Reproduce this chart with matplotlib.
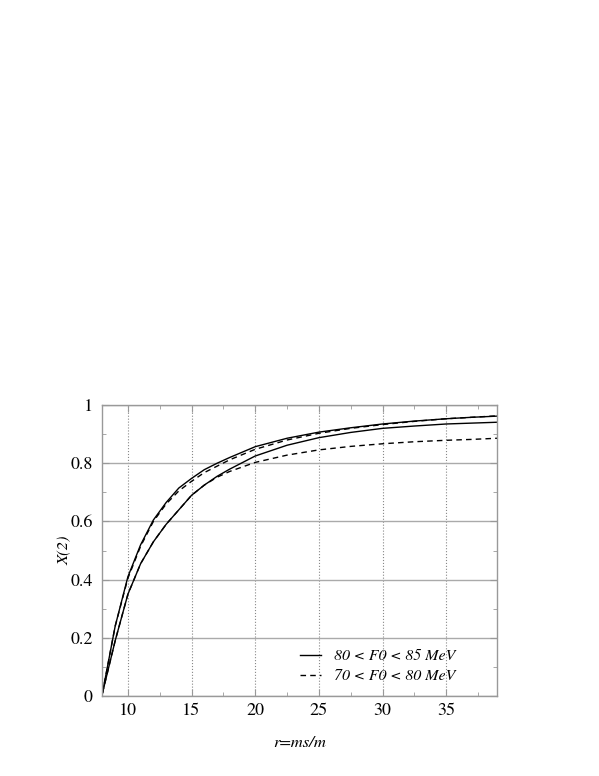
import matplotlib
matplotlib.use('Agg')
import matplotlib.pyplot as plt
from matplotlib.ticker import MultipleLocator

# r values and X(2)
r = [8, 9, 10, 11, 12, 13, 14, 15, 16, 17, 18, 20, 22.5, 25, 27.5, 30, 32.5, 35, 37, 39]
upper_solid = [0.01, 0.24, 0.41, 0.52, 0.605, 0.665, 0.715, 0.748, 0.778, 0.80, 0.82, 0.857, 0.886, 0.907, 0.922, 0.935, 0.945, 0.953, 0.958, 0.962]
upper_dash = [0.01, 0.24, 0.405, 0.515, 0.60, 0.66, 0.705, 0.738, 0.768, 0.79, 0.812, 0.848, 0.88, 0.903, 0.92, 0.933, 0.944, 0.953, 0.958, 0.963]
lower_solid = [0.01, 0.19, 0.35, 0.455, 0.53, 0.59, 0.64, 0.69, 0.725, 0.755, 0.78, 0.825, 0.862, 0.888, 0.906, 0.92, 0.928, 0.935, 0.938, 0.941]
lower_dash = [0.01, 0.19, 0.35, 0.455, 0.53, 0.59, 0.64, 0.69, 0.725, 0.752, 0.772, 0.803, 0.828, 0.846, 0.858, 0.867, 0.874, 0.879, 0.882, 0.886]

labels = ['80 < F0 < 85 MeV', '70 < F0 < 80 MeV']

plt.rcParams['font.family'] = ['TeX Gyre Termes', 'Liberation Serif', 'FreeSerif', 'DejaVu Serif']

fig = plt.figure(figsize=(5.99, 7.76), dpi=100)
ax = fig.add_axes([0.171, 0.103, 0.659, 0.375])

ax.plot(r, upper_solid, color='black', linestyle='-', linewidth=1.0, label=labels[0])
ax.plot(r, upper_dash, color='black', linestyle=(0, (4, 3)), linewidth=1.0, label=labels[1])
ax.plot(r, lower_solid, color='black', linestyle='-', linewidth=1.0)
ax.plot(r, lower_dash, color='black', linestyle=(0, (4, 3)), linewidth=1.0)

ax.set_xlim(8, 39)
ax.set_ylim(0, 1)
ax.xaxis.set_major_locator(MultipleLocator(5))
ax.xaxis.set_minor_locator(MultipleLocator(2.5))
ax.yaxis.set_minor_locator(MultipleLocator(0.1))
ax.set_yticks([0, 0.2, 0.4, 0.6, 0.8, 1])
ax.set_yticklabels(['0', '0.2', '0.4', '0.6', '0.8', '1'])

ax.grid(axis='x', which='major', color='#888888', linestyle=':', linewidth=0.8)
ax.grid(axis='y', which='major', color='#aaaaaa', linestyle='-', linewidth=1.0)
ax.set_axisbelow(True)

for s in ax.spines.values():
    s.set_color('#999999')
    s.set_linewidth(1.0)
ax.tick_params(which='both', direction='in', top=True, right=True, color='#999999', labelsize=13)
ax.tick_params(axis='x', which='major', length=5, pad=5)
ax.tick_params(axis='y', which='major', length=5, pad=7)
ax.tick_params(which='minor', length=3)

ax.set_xlabel('r=ms/m', fontstyle='italic', fontsize=12, labelpad=12)
ax.set_ylabel('X(2)', fontstyle='italic', fontsize=12, labelpad=-1)

leg = ax.legend(loc='lower right', bbox_to_anchor=(0.93, -0.005), frameon=False,
                prop={'style': 'italic', 'size': 11.5}, handlelength=1.3, handletextpad=0.8,
                labelspacing=0.35)

plt.savefig('out.png', dpi=100)
plt.close()
